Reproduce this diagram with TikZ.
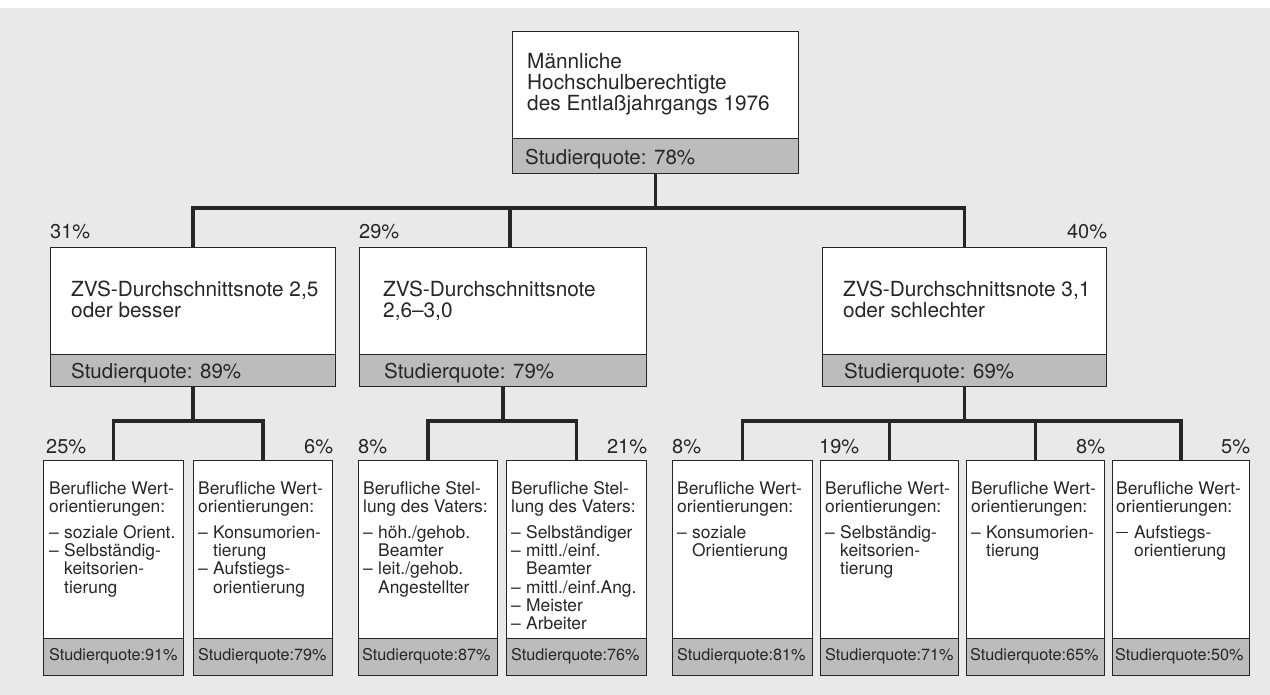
\documentclass[tikz,border=0pt]{standalone}
\usepackage{fontspec}
\setmainfont{TeX Gyre Heros}
\usetikzlibrary{calc}
\definecolor{bg}{HTML}{E9E9E9}
\definecolor{bandgray}{HTML}{BCBCBC}
\definecolor{ink}{HTML}{262626}
\newcommand\ts[1]{\rule{0pt}{#1}}
\newcommand\li{\makebox[15pt][l]{–}}
\newcommand\lm{\makebox[18pt][l]{\rule[5.4pt]{12pt}{1.1pt}}}
\newcommand\ci{\hspace*{15pt}}
\newcommand\cm{\hspace*{18pt}}
\begin{document}
\begin{tikzpicture}[x=1pt,y=-1pt,
 box/.style={draw=ink, line width=1.3pt, fill=white, inner sep=0pt, anchor=north west},
 band/.style={draw=ink, line width=1.3pt, fill=bandgray, inner sep=0pt, anchor=south west},
 conn/.style={draw=ink, line width=3.4pt},
 bigtxt/.style={inner sep=0pt, anchor=north west, align=left, text=ink, font=\fontsize{20.8}{21.3}\selectfont},
 smtxt/.style={inner sep=0pt, anchor=north west, align=left, text=ink, font=\fontsize{17.4}{18.3}\selectfont},
 bandbig/.style={inner sep=0pt, anchor=base west, text=ink, font=\fontsize{20.5}{22}\selectfont},
 bandsm/.style={inner sep=0pt, anchor=base west, text=ink, font=\fontsize{16.2}{18}\selectfont},
 pct/.style={inner sep=0pt, text=ink, font=\fontsize{20}{22}\selectfont},
]
\useasboundingbox (0,0) rectangle (1270,695);
\fill[white] (0,0) rectangle (1270,695);
\fill[bg] (0,8) rectangle (1270,695);

% joints
\coordinate (j0) at (655,208);
\coordinate (j1) at (0,421);

% top box
\node[box, minimum width=286pt, minimum height=142pt] (T) at (512,31) {};
\node[band, minimum width=286pt, minimum height=35pt] (Tq) at (T.south west) {};
\node[bigtxt] (Tt) at ($(T.north west)+(15,17)$) {\ts{20pt}Männliche\\Hochschulberechtigte\\des Entlaßjahrgangs 1976};
\node[bandbig] (Tqt) at ($(Tq.south west)+(13,-10)$) {Studierquote: 78\%};

% middle boxes
\node[box, minimum width=285pt, minimum height=139pt] (M1) at (50,247) {};
\node[box, minimum width=287pt, minimum height=139pt] (M2) at (359,247) {};
\node[box, minimum width=284pt, minimum height=139pt] (M3) at (822,247) {};

% small boxes
\node[box, minimum width=140pt, minimum height=215pt] (S1) at (43,460) {};
\node[box, minimum width=139pt, minimum height=215pt] (S2) at (193,460) {};
\node[box, minimum width=139pt, minimum height=215pt] (S3) at (358,460) {};
\node[box, minimum width=140pt, minimum height=215pt] (S4) at (506,460) {};
\node[box, minimum width=140pt, minimum height=215pt] (S5) at (672,460) {};
\node[box, minimum width=138pt, minimum height=215pt] (S6) at (820,460) {};
\node[box, minimum width=138pt, minimum height=215pt] (S7) at (966,460) {};
\node[box, minimum width=137pt, minimum height=215pt] (S8) at (1112,460) {};

% bands
\node[band, minimum width=285pt, minimum height=32pt] (M1q) at (M1.south west) {};
\node[band, minimum width=287pt, minimum height=32pt] (M2q) at (M2.south west) {};
\node[band, minimum width=284pt, minimum height=32pt] (M3q) at (M3.south west) {};
\node[band, minimum width=140pt, minimum height=37pt] (S1q) at (S1.south west) {};
\node[band, minimum width=139pt, minimum height=37pt] (S2q) at (S2.south west) {};
\node[band, minimum width=139pt, minimum height=37pt] (S3q) at (S3.south west) {};
\node[band, minimum width=140pt, minimum height=37pt] (S4q) at (S4.south west) {};
\node[band, minimum width=140pt, minimum height=37pt] (S5q) at (S5.south west) {};
\node[band, minimum width=138pt, minimum height=37pt] (S6q) at (S6.south west) {};
\node[band, minimum width=138pt, minimum height=37pt] (S7q) at (S7.south west) {};
\node[band, minimum width=137pt, minimum height=37pt] (S8q) at (S8.south west) {};

% connectors
\draw[conn] (Tq.south) -- (Tq.south |- j0);
\draw[conn] (M1.north) -- (M1.north |- j0) -- (M3.north |- j0) -- (M3.north);
\draw[conn] ([xshift=7pt]M2.north) -- ([xshift=7pt]M2.north |- j0);
\draw[conn] (M1q.south) -- (M1q.south |- j1);
\draw[conn] (S1.north) -- (S1.north |- j1) -- (S2.north |- j1) -- (S2.north);
\draw[conn] (M2q.south) -- (M2q.south |- j1);
\draw[conn] (S3.north) -- (S3.north |- j1) -- (S4.north |- j1) -- (S4.north);
\draw[conn] (M3q.south) -- (M3q.south |- j1);
\draw[conn] (S5.north) -- (S5.north |- j1) -- (S8.north |- j1) -- (S8.north);
\draw[conn] (S6.north) -- (S6.north |- j1);
\draw[conn] (S7.north) -- (S7.north |- j1);

% middle texts
\node[bigtxt] (M1t) at ($(M1.north west)+(21,29)$) {\ts{20pt}ZVS-Durchschnittsnote 2,5\\oder besser};
\node[bigtxt] (M2t) at ($(M2.north west)+(24,29)$) {\ts{20pt}ZVS-Durchschnittsnote\\2,6–3,0};
\node[bigtxt] (M3t) at ($(M3.north west)+(21,29)$) {\ts{20pt}ZVS-Durchschnittsnote 3,1\\oder schlechter};
\node[bandbig] (M1qt) at ($(M1q.south west)+(21,-9)$) {Studierquote: 89\%};
\node[bandbig] (M2qt) at ($(M2q.south west)+(25,-9)$) {Studierquote: 79\%};
\node[bandbig] (M3qt) at ($(M3q.south west)+(22,-9)$) {Studierquote: 69\%};

% small texts
\node[smtxt] (S1t) at ($(S1.north west)+(6,18)$) {\ts{16pt}Berufliche Wert-\\orientierungen:\\[7.5pt]\li soziale Orient.\\\li Selbständig-\\\ci keitsorien-\\\ci tierung};
\node[smtxt] (S2t) at ($(S2.north west)+(5,18)$) {\ts{16pt}Berufliche Wert-\\orientierungen:\\[7.5pt]\li Konsumorien-\\\ci tierung\\\li Aufstiegs-\\\ci orientierung};
\node[smtxt] (S3t) at ($(S3.north west)+(5,18)$) {\ts{16pt}Berufliche Stel-\\lung des Vaters:\\[7.5pt]\li höh./gehob.\\\ci Beamter\\\li leit./gehob.\\\ci Angestellter};
\node[smtxt] (S4t) at ($(S4.north west)+(5,18)$) {\ts{16pt}Berufliche Stel-\\lung des Vaters:\\[7.5pt]\li Selbständiger\\\li mittl./einf.\\\ci Beamter\\\li mittl./einf.Ang.\\\li Meister\\\li Arbeiter};
\node[smtxt] (S5t) at ($(S5.north west)+(5,18)$) {\ts{16pt}Berufliche Wert-\\orientierungen:\\[7.5pt]\li soziale\\\ci Orientierung};
\node[smtxt] (S6t) at ($(S6.north west)+(5,18)$) {\ts{16pt}Berufliche Wert-\\orientierungen:\\[7.5pt]\li Selbständig-\\\ci keitsorien-\\\ci tierung};
\node[smtxt] (S7t) at ($(S7.north west)+(5,18)$) {\ts{16pt}Berufliche Wert-\\orientierungen:\\[7.5pt]\li Konsumorien-\\\ci tierung};
\node[smtxt] (S8t) at ($(S8.north west)+(4,18)$) {\ts{16pt}Berufliche Wert-\\orientierungen:\\[7.5pt]\lm Aufstiegs-\\\cm orientierung};

\node[bandsm] (S1qt) at ($(S1q.south west)+(6,-16)$) {Studierquote:91\%};
\node[bandsm] (S2qt) at ($(S2q.south west)+(5,-16)$) {Studierquote:79\%};
\node[bandsm] (S3qt) at ($(S3q.south west)+(4,-16)$) {Studierquote:87\%};
\node[bandsm] (S4qt) at ($(S4q.south west)+(5,-16)$) {Studierquote:76\%};
\node[bandsm] (S5qt) at ($(S5q.south west)+(5,-16)$) {Studierquote:81\%};
\node[bandsm] (S6qt) at ($(S6q.south west)+(5,-16)$) {Studierquote:71\%};
\node[bandsm] (S7qt) at ($(S7q.south west)+(4,-16)$) {Studierquote:65\%};
\node[bandsm] (S8qt) at ($(S8q.south west)+(3,-16)$) {Studierquote:50\%};

% percentages
\node[pct, anchor=base west] (pM1) at ($(M1.north west)+(0,-8)$) {31\%};
\node[pct, anchor=base west] (pM2) at ($(M2.north west)+(0,-8)$) {29\%};
\node[pct, anchor=base east] (pM3) at ($(M3.north east)+(0,-8)$) {40\%};
\node[pct, anchor=base west] (pS1) at ($(S1.north west)+(3,-7)$) {25\%};
\node[pct, anchor=base east] (pS2) at ($(S2.north east)+(0,-7)$) {6\%};
\node[pct, anchor=base west] (pS3) at ($(S3.north west)+(0,-7)$) {8\%};
\node[pct, anchor=base east] (pS4) at ($(S4.north east)+(0,-7)$) {21\%};
\node[pct, anchor=base west] (pS5) at ($(S5.north west)+(0,-7)$) {8\%};
\node[pct, anchor=base west] (pS6) at ($(S6.north west)+(-1,-7)$) {19\%};
\node[pct, anchor=base east] (pS7) at ($(S7.north east)+(0,-7)$) {8\%};
\node[pct, anchor=base east] (pS8) at ($(S8.north east)+(0,-7)$) {5\%};
\end{tikzpicture}
\end{document}
